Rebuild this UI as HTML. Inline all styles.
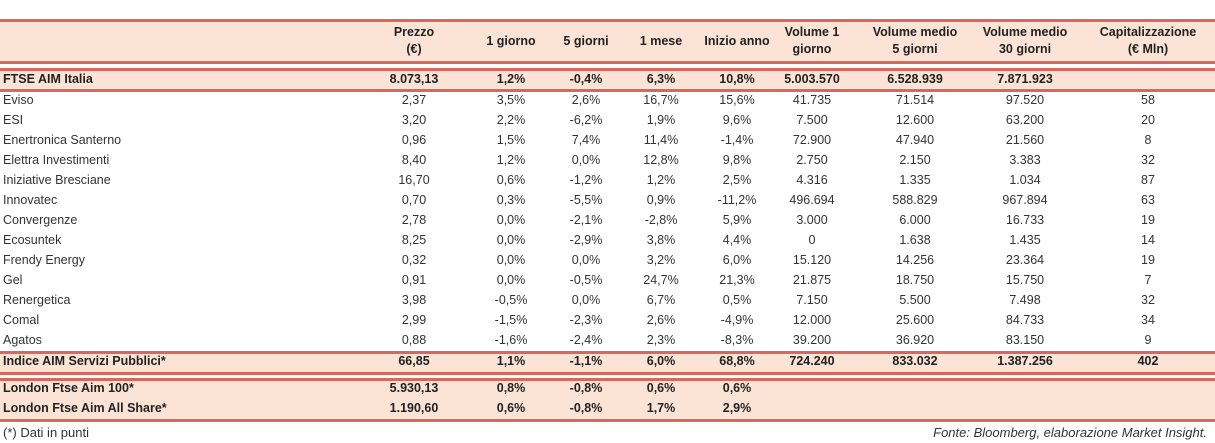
<!DOCTYPE html>
<html><head><meta charset="utf-8">
<style>
body{margin:0;width:1215px;height:443px;background:#fff;font-family:"Liberation Sans",sans-serif;position:relative;overflow:hidden;color:#333}
.band{position:absolute;left:0;width:1215px;background:#fbe4d6}
.ln{position:absolute;left:0;width:1215px;height:3px;background:#d9675d}
.c{position:absolute;font-size:12.5px;text-align:center;white-space:nowrap;line-height:15px}
.b{font-weight:bold;color:#222}
.l{text-align:left}
.h{line-height:17px}
</style></head><body>
<div class="band" style="top:20px;height:42px"></div>
<div class="band" style="top:69px;height:21px"></div>
<div class="band" style="top:352px;height:21px"></div>
<div class="band" style="top:379px;height:41px"></div>
<div class="ln" style="top:19px"></div>
<div class="ln" style="top:61px"></div>
<div class="ln" style="top:68px"></div>
<div class="ln" style="top:89px"></div>
<div class="ln" style="top:351px"></div>
<div class="ln" style="top:372px"></div>
<div class="ln" style="top:378px"></div>
<div class="ln" style="top:419px"></div>
<div class="c l" style="left:3px;top:425px;font-size:13px">(*) Dati in punti</div>
<div class="c" style="right:8px;top:425px;font-size:13px;font-style:italic">Fonte: Bloomberg, elaborazione Market Insight.</div>
<script>
const centers=[414,511,586,661,737,812,915,1025,1148];
const headers=[["Prezzo","(€)"],["1 giorno"],["5 giorni"],["1 mese"],["Inizio anno"],["Volume 1","giorno"],["Volume medio","5 giorni"],["Volume medio","30 giorni"],["Capitalizzazione","(€ Mln)"]];
const rows=[
["FTSE AIM Italia",80,1,["8.073,13","1,2%","-0,4%","6,3%","10,8%","5.003.570","6.528.939","7.871.923",""]],
["Eviso",101,0,["2,37","3,5%","2,6%","16,7%","15,6%","41.735","71.514","97.520","58"]],
["ESI",121,0,["3,20","2,2%","-6,2%","1,9%","9,6%","7.500","12.600","63.200","20"]],
["Enertronica Santerno",141,0,["0,96","1,5%","7,4%","11,4%","-1,4%","72.900","47.940","21.560","8"]],
["Elettra Investimenti",161,0,["8,40","1,2%","0,0%","12,8%","9,8%","2.750","2.150","3.383","32"]],
["Iniziative Bresciane",181,0,["16,70","0,6%","-1,2%","1,2%","2,5%","4.316","1.335","1.034","87"]],
["Innovatec",201,0,["0,70","0,3%","-5,5%","0,9%","-11,2%","496.694","588.829","967.894","63"]],
["Convergenze",221,0,["2,78","0,0%","-2,1%","-2,8%","5,9%","3.000","6.000","16.733","19"]],
["Ecosuntek",241,0,["8,25","0,0%","-2,9%","3,8%","4,4%","0","1.638","1.435","14"]],
["Frendy Energy",261,0,["0,32","0,0%","0,0%","3,2%","6,0%","15.120","14.256","23.364","19"]],
["Gel",281,0,["0,91","0,0%","-0,5%","24,7%","21,3%","21.875","18.750","15.750","7"]],
["Renergetica",301,0,["3,98","-0,5%","0,0%","6,7%","0,5%","7.150","5.500","7.498","32"]],
["Comal",321,0,["2,99","-1,5%","-2,3%","2,6%","-4,9%","12.000","25.600","84.733","34"]],
["Agatos",341,0,["0,88","-1,6%","-2,4%","2,3%","-8,3%","39.200","36.920","83.150","9"]],
["Indice AIM Servizi Pubblici*",362,1,["66,85","1,1%","-1,1%","6,0%","68,8%","724.240","833.032","1.387.256","402"]],
["London Ftse Aim 100*",389,1,["5.930,13","0,8%","-0,8%","0,6%","0,6%","","","",""]],
["London Ftse Aim All Share*",409,1,["1.190,60","0,6%","-0,8%","1,7%","2,9%","","","",""]]
];
function add(txt,x,y,cls,center){
  const d=document.createElement('div');
  d.className='c '+cls;
  d.textContent=txt;
  
  
  document.body.appendChild(d);
  if(center){d.style.left=(x-60)+'px';d.style.width='120px';}else d.style.left=x+'px';
  d.style.top=(y-8)+'px';
  return d;
}
headers.forEach((h,i)=>{
  const d=add(h.join('\n'),centers[i],h.length>1?32:41,'b h',true);
  d.style.whiteSpace='pre';
  
});
rows.forEach(r=>{
  const n=add(r[0],3,r[1],(r[2]?'b ':'')+'l',false);
  
  r[3].forEach((v,i)=>{if(v!=='')add(v,centers[i],r[1],r[2]?'b':'',true);});
});
</script>
</body></html>
